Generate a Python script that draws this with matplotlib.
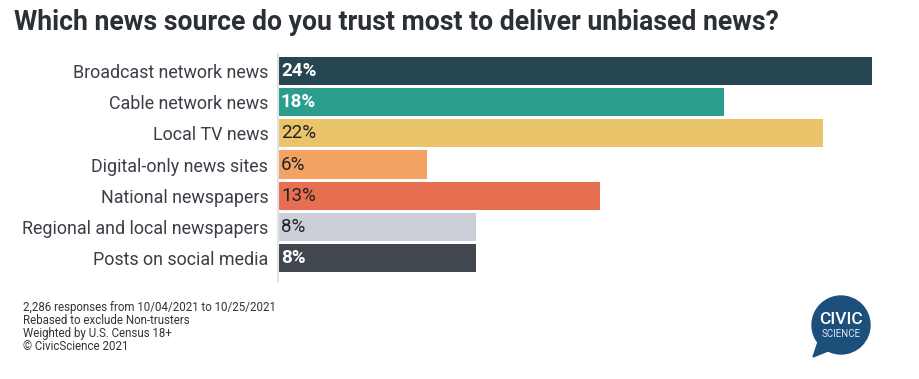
import matplotlib.pyplot as plt
from matplotlib.patches import Circle, Polygon

categories = ["Broadcast network news", "Cable network news", "Local TV news",
              "Digital-only news sites", "National newspapers",
              "Regional and local newspapers", "Posts on social media"]
values = [24, 18, 22, 6, 13, 8, 8]
colors = ["#264653", "#2a9d8f", "#e9c46a", "#f4a261", "#e76f51", "#cbd0d8", "#40474f"]
label_colors = ["white", "white", "#222222", "#222222", "#222222", "#222222", "white"]
label_weights = ["bold", "bold", "normal", "normal", "normal", "normal", "bold"]
notes = ["2,286 responses from 10/04/2021 to 10/25/2021",
         "Rebased to exclude Non-trusters",
         "Weighted by U.S. Census 18+",
         "\u00a9 CivicScience 2021"]

plt.rcParams['font.family'] = ['Roboto', 'DejaVu Sans']

W, H = 919, 379
fig = plt.figure(figsize=(W / 100, H / 100), dpi=100)

y_lo, y_hi = -0.55, 6.75
top_px = 71 - (0 - y_lo) * 31.17
bot_px = 258 + (y_hi - 6) * 31.17
ax = fig.add_axes([278 / W, 1 - bot_px / H, (872 - 278) / W, (bot_px - top_px) / H])

ypos = list(range(len(categories)))
ax.barh(ypos, values, height=0.9, color=colors)
ax.set_xlim(0, 24)
ax.set_ylim(y_hi, y_lo)
for y, v, c, w in zip(ypos, values, label_colors, label_weights):
    ax.text(0.12, y, f"{v}%", va="center", ha="left", color=c, fontsize=13.5,
            fontweight=w)

ax.set_yticks(ypos)
ax.set_yticklabels(categories, fontsize=12.9, color="#3a3f47")
ax.tick_params(axis="y", length=0, pad=7)
ax.set_xticks([])
for s in ["top", "right", "bottom"]:
    ax.spines[s].set_visible(False)
ax.spines["left"].set_color("#e3e3e3")
ax.spines["left"].set_linewidth(1.5)

fig.text(14 / W, 1 - 22 / H, "Which news source do you trust most to deliver unbiased news?",
         fontsize=19.2, fontweight="bold", color="#2b2f36", va="center", ha="left")

for i, line in enumerate(notes):
    fig.text(23 / W, 1 - (307 + 13 * i) / H, line, fontsize=8.3, color="#333333",
             va="center", ha="left")

# logo
cx, cy, r = 841, 325, 29
logo_ax = fig.add_axes([0, 0, 1, 1], zorder=-1)
logo_ax.set_xlim(0, W)
logo_ax.set_ylim(H, 0)
logo_ax.axis("off")
logo_ax.add_patch(Circle((cx, cy), r, color="#1d4f7c"))
logo_ax.add_patch(Polygon([(cx - 22, cy + 14), (cx - 28, cy + 32), (cx - 8, cy + 24)],
                          color="#1d4f7c"))
logo_ax.text(cx, cy - 6, "CIVIC", color="white", fontsize=12.5, fontweight="medium",
             ha="center", va="center")
logo_ax.text(cx, cy + 9, "SCIENCE", color="#dfe6ee", fontsize=7, ha="center", va="center")

fig.savefig("out.png", dpi=100)
